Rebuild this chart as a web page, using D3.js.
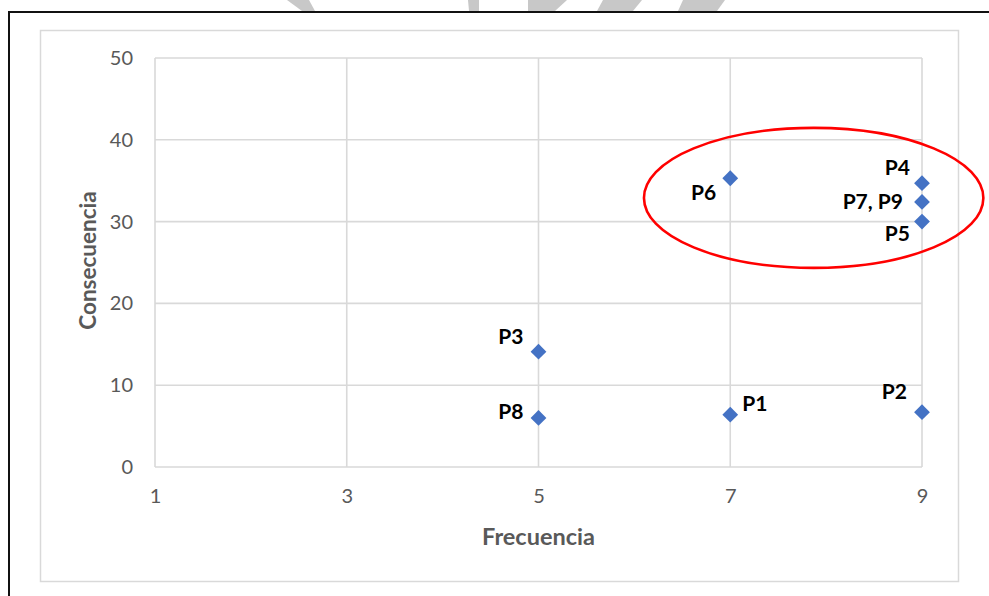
<!DOCTYPE html>
<html><head><meta charset="utf-8">
<script src="https://cdn.jsdelivr.net/npm/d3@7"></script>
<style>html,body{margin:0;padding:0;background:#fff;} svg{display:block;}</style>
</head><body><svg id="chart" width="989" height="596"></svg>
<script>
// ---- data ----
const pointNames   = ["P1", "P2", "P3", "P4", "P5", "P6", "P7, P9", "P8"];
const frecuencia   = [7, 9, 5, 9, 9, 7, 9, 5];
const consecuencia = [6.4, 6.7, 14.1, 34.7, 30.0, 35.3, 32.4, 6.0];
const xTicks = [1, 3, 5, 7, 9];
const yTicks = [0, 10, 20, 30, 40, 50];
const xTitle = "Frecuencia";
const yTitle = "Consecuencia";
// highlighted cluster (data units): centre x, centre y, half-width, half-height
const clusterCenter = [7.87, 32.9];
const clusterRadius = [1.77, 8.56];

// ---- label placement (pixel offsets, style) ----
const labelOffsets = {
  "P1": [12, -11, "start"], "P2": [-15, -21, "end"], "P3": [-15, -15, "end"],
  "P4": [-12, -16, "end"], "P5": [-12, 12, "end"], "P6": [-14, 14, "end"],
  "P7, P9": [-19, 0, "end"], "P8": [-15, -6, "end"]
};

const svg = d3.select("#chart");
const plot = {left: 155, right: 922, top: 58, bottom: 467};

// watermark fragments at top (decoration)
const marks = [
  [[287,0],[309,0],[315,11],[302,11]],
  [[468,0],[479,0],[479,11],[469,11]],
  [[528,0],[567,0],[555,11],[528,11]],
  [[603,0],[642,0],[633,11],[597,11]],
  [[683,0],[725,0],[717,11],[678,11]]
];
svg.selectAll("polygon.wm").data(marks).join("polygon")
  .attr("class","wm").attr("points", d => d.map(p => p.join(",")).join(" "))
  .attr("fill", "#c8c8c8");

// outer black frame
svg.append("rect").attr("x", 9).attr("y", 12).attr("width", 1000).attr("height", 600)
  .attr("fill", "#fff").attr("stroke", "#111").attr("stroke-width", 2);

// chart area border
svg.append("rect").attr("x", 40.5).attr("y", 30.5).attr("width", 918).attr("height", 551)
  .attr("fill", "#fff").attr("stroke", "#d9d9d9").attr("stroke-width", 1.5);

const x = d3.scaleLinear().domain([1, 9]).range([plot.left, plot.right]);
const y = d3.scaleLinear().domain([0, 50]).range([plot.bottom, plot.top]);

// gridlines
const g = svg.append("g");
g.selectAll("line.h").data(yTicks).join("line").attr("class","h")
  .attr("x1", plot.left).attr("x2", plot.right)
  .attr("y1", d => y(d)).attr("y2", d => y(d))
  .attr("stroke", "#d9d9d9").attr("stroke-width", 1.6);
g.selectAll("line.v").data(xTicks).join("line").attr("class","v")
  .attr("y1", plot.top).attr("y2", plot.bottom)
  .attr("x1", d => x(d)).attr("x2", d => x(d))
  .attr("stroke", "#d9d9d9").attr("stroke-width", 1.6);

// axes (labels only)
const font = "Lato, 'Noto Sans', sans-serif";
const yAxis = svg.append("g").attr("transform", `translate(${plot.left},0)`)
  .call(d3.axisLeft(y).tickValues(yTicks).tickSize(0).tickPadding(22));
const xAxis = svg.append("g").attr("transform", `translate(0,${plot.bottom})`)
  .call(d3.axisBottom(x).tickValues(xTicks).tickSize(0).tickPadding(22));
[yAxis, xAxis].forEach(a => {
  a.select(".domain").remove();
  a.selectAll("text").attr("fill", "#595959").style("font-family", font).style("font-size", "20px");
});

// axis titles
svg.append("text").text(xTitle)
  .attr("x", (plot.left + plot.right) / 2).attr("y", 537).attr("dy", "0.35em")
  .attr("text-anchor", "middle").attr("fill", "#595959")
  .style("font-family", font).style("font-size", "23.5px").style("font-weight", "bold");
svg.append("text").text(yTitle)
  .attr("transform", `translate(88,${(plot.top + plot.bottom) / 2 - 2}) rotate(-90)`)
  .attr("dy", "0.35em").attr("text-anchor", "middle").attr("fill", "#595959")
  .style("font-family", font).style("font-size", "22.5px").style("font-weight", "bold");

// points
const pts = pointNames.map((n, i) => ({name: n, fx: frecuencia[i], cy: consecuencia[i]}));
const diamond = d3.symbol().type(d3.symbolSquare).size(125);
svg.selectAll("path.pt").data(pts).join("path").attr("class","pt")
  .attr("d", diamond)
  .attr("transform", d => `translate(${x(d.fx)},${y(d.cy)}) rotate(45)`)
  .attr("fill", "#4472c4");

// labels
svg.selectAll("text.lbl").data(pts).join("text").attr("class","lbl")
  .text(d => d.name)
  .attr("x", d => x(d.fx) + labelOffsets[d.name][0])
  .attr("y", d => y(d.cy) + labelOffsets[d.name][1])
  .attr("dy", "0.35em")
  .attr("text-anchor", d => labelOffsets[d.name][2])
  .attr("fill", "#000")
  .style("font-family", font).style("font-size", "21px").style("font-weight", "bold");

// highlight ellipse
const cx = x(clusterCenter[0]), cyy = y(clusterCenter[1]);
svg.append("ellipse")
  .attr("cx", cx).attr("cy", cyy)
  .attr("rx", x(clusterCenter[0] + clusterRadius[0]) - cx)
  .attr("ry", cyy - y(clusterCenter[1] + clusterRadius[1]))
  .attr("fill", "none").attr("stroke", "#ff0000").attr("stroke-width", 2.6);
</script></body></html>
